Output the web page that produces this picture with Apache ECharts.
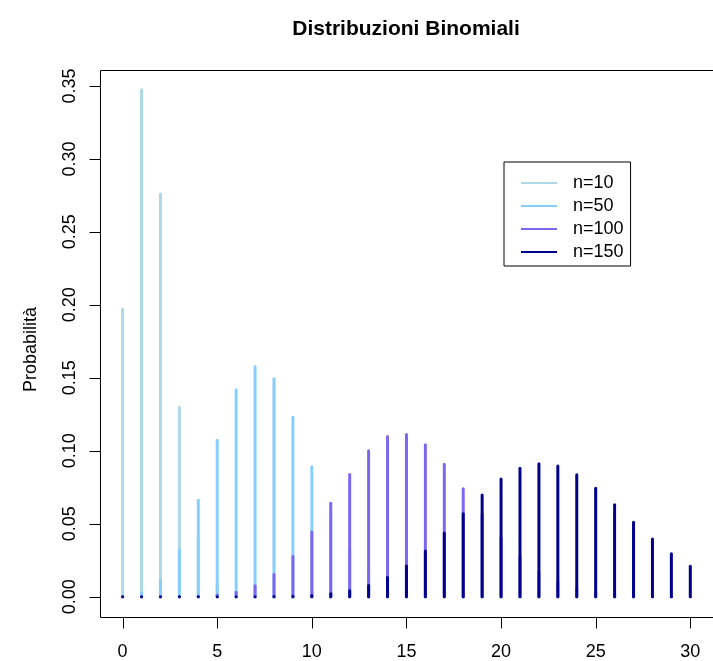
<!DOCTYPE html>
<html>
<head>
<meta charset="utf-8">
<script src="https://cdn.jsdelivr.net/npm/echarts@6/dist/echarts.min.js"></script>
<style>
  html, body { margin: 0; padding: 0; background: #fff; }
  #chart { width: 713px; height: 661px; }
</style>
</head>
<body>
<div id="chart"></div>
<script>
// Binomial probability mass functions, p = 0.15, for k = 0..30
const kValues = [0,1,2,3,4,5,6,7,8,9,10,11,12,13,14,15,16,17,18,19,20,21,22,23,24,25,26,27,28,29,30];

const seriesNames = ['n=10', 'n=50', 'n=100', 'n=150'];
const seriesColors = ['#ADD8E6', '#87CEFA', '#7B68EE', '#00008B'];

const probN10 = [0.1969, 0.3474, 0.2759, 0.1298, 0.0401, 0.0085, 0.00125, 0.000126, 0.0000083, 0.0000003,
  0.00000001, 0, 0, 0, 0, 0, 0, 0, 0, 0, 0, 0, 0, 0, 0, 0, 0, 0, 0, 0, 0];
const probN50 = [0.000296, 0.00261, 0.0113, 0.0319, 0.0661, 0.1072, 0.1419, 0.1575, 0.1493, 0.1230,
  0.0890, 0.0571, 0.0328, 0.0169, 0.00788, 0.00334, 0.00129, 0.000455, 0.000147, 0.0000437,
  0.000012, 0.000003, 0.0000007, 0.0000001, 0, 0, 0, 0, 0, 0, 0];
const probN100 = [0.00000009, 0.0000015, 0.0000135, 0.0000777, 0.000333, 0.00113, 0.00315, 0.00746, 0.0153, 0.0276,
  0.0444, 0.0640, 0.0838, 0.1001, 0.1098, 0.1111, 0.1041, 0.0908, 0.0739, 0.0563,
  0.0402, 0.0270, 0.0171, 0.0103, 0.00581, 0.00312, 0.00159, 0.000767, 0.000353, 0.000155, 0.0000646];
const probN150 = [0.00000000003, 0.0000000007, 0.000000009, 0.000000078, 0.00000051, 0.0000026, 0.0000112, 0.0000406, 0.000128, 0.000356,
  0.000886, 0.00199, 0.00407, 0.00762, 0.0132, 0.0211, 0.0314, 0.0436, 0.0569, 0.0697,
  0.0806, 0.0881, 0.0911, 0.0895, 0.0836, 0.0743, 0.0631, 0.0511, 0.0396, 0.0294, 0.0209];

const probSets = [probN10, probN50, probN100, probN150];

// Axis ticks and labels
const xTicks = [0, 5, 10, 15, 20, 25, 30];
const yTicks = [0, 0.05, 0.10, 0.15, 0.20, 0.25, 0.30, 0.35];

// Plot frame range (data range padded by 4% on each side)
const X_MIN = -1.2, X_MAX = 31.2;
const Y_MIN = -0.0139, Y_MAX = 0.3609;
// The grid reaches a little past the frame on the left and bottom so the
// outward tick marks fall inside the drawing area.
const X_GRID_MIN = -1.829;
const Y_GRID_MIN = -0.02211;

const FONT = '"Liberation Sans", Arial, Helvetica, sans-serif';
const TICK_LEN = 11;

function spikeRenderer(color) {
  return function (params, api) {
    const x = api.value(0);
    const y = api.value(1);
    const base = api.coord([x, 0]);
    const top = api.coord([x, y]);
    return {
      type: 'line',
      shape: { x1: base[0], y1: base[1], x2: top[0], y2: top[1] },
      style: { stroke: color, lineWidth: 3, lineCap: 'round' }
    };
  };
}

const series = [];

// Plot frame
series.push({
  type: 'custom',
  name: 'frame',
  clip: false,
  silent: true,
  z: 1,
  encode: { x: 0, y: 1 },
  data: [[X_MIN, Y_MIN, X_MAX, Y_MAX]],
  renderItem: (params, api) => {
    const a = api.coord([api.value(0), api.value(3)]);
    const b = api.coord([api.value(2), api.value(1)]);
    const x0 = Math.round(a[0]) + 0.5, y0 = Math.round(a[1]) + 0.5;
    const x1 = Math.round(b[0]) + 0.5, y1 = Math.round(b[1]) + 0.5;
    return {
      type: 'rect',
      shape: { x: x0, y: y0, width: x1 - x0, height: y1 - y0 },
      style: { fill: null, stroke: '#000', lineWidth: 1 }
    };
  }
});

// Outward tick marks along the bottom and left sides of the frame
series.push({
  type: 'custom',
  name: 'xTickMarks',
  clip: false,
  silent: true,
  z: 1,
  encode: { x: 0, y: 1 },
  data: xTicks.map(v => [v, Y_MIN]),
  renderItem: (params, api) => {
    const p = api.coord([api.value(0), api.value(1)]);
    const x = Math.round(p[0]) + 0.5;
    const y = Math.round(p[1]) + 0.5;
    return {
      type: 'line',
      shape: { x1: x, y1: y, x2: x, y2: y + TICK_LEN },
      style: { stroke: '#000', lineWidth: 1 }
    };
  }
});
series.push({
  type: 'custom',
  name: 'yTickMarks',
  clip: false,
  silent: true,
  z: 1,
  encode: { x: 0, y: 1 },
  data: yTicks.map(v => [X_MIN, v]),
  renderItem: (params, api) => {
    const p = api.coord([api.value(0), api.value(1)]);
    const x = Math.round(p[0]) + 0.5;
    const y = Math.round(p[1]) + 0.5;
    return {
      type: 'line',
      shape: { x1: x, y1: y, x2: x - TICK_LEN, y2: y },
      style: { stroke: '#000', lineWidth: 1 }
    };
  }
});

// Probability spikes, drawn in order so larger n sits on top
seriesNames.forEach((name, i) => {
  series.push({
    type: 'custom',
    name: name,
    renderItem: spikeRenderer(seriesColors[i]),
    itemStyle: { color: seriesColors[i] },
    encode: { x: 0, y: 1 },
    data: kValues.map((k, j) => [k, probSets[i][j]]),
    clip: false,
    silent: true,
    z: 2
  });
});

const chart = echarts.init(document.getElementById('chart'), null, { renderer: 'canvas' });

chart.setOption({
  animation: false,
  backgroundColor: '#fff',
  textStyle: { fontFamily: FONT },
  title: {
    text: 'Distribuzioni Binomiali',
    left: 406,
    top: 19,
    padding: 0,
    textAlign: 'center',
    textStyle: { fontFamily: FONT, fontWeight: 'bold', fontSize: 21, color: '#000' }
  },
  legend: {
    orient: 'vertical',
    left: 504,
    top: 162,
    z: 10,
    padding: [12, 7, 5, 17],
    itemGap: 5,
    itemWidth: 36,
    itemHeight: 2,
    icon: 'rect',
    borderColor: '#000',
    borderWidth: 1,
    borderRadius: 0,
    backgroundColor: '#fff',
    textStyle: { fontFamily: FONT, fontSize: 18, color: '#000', padding: [0, 0, 0, 11], lineHeight: 18 },
    data: seriesNames
  },
  grid: {
    left: 88,
    top: 70,
    width: 630,
    height: 560,
    show: false,
    containLabel: false
  },
  xAxis: {
    type: 'value',
    min: X_GRID_MIN,
    max: X_MAX,
    splitLine: { show: false },
    axisLine: { show: false, onZero: false },
    axisTick: { show: false },
    axisLabel: {
      customValues: xTicks,
      margin: 14,
      fontSize: 18,
      fontFamily: FONT,
      color: '#000',
      formatter: v => String(v)
    }
  },
  yAxis: {
    type: 'value',
    min: Y_GRID_MIN,
    max: Y_MAX,
    name: 'Probabilità',
    nameLocation: 'middle',
    nameGap: 48,
    nameRotate: 90,
    nameTextStyle: { fontFamily: FONT, fontSize: 18, color: '#000' },
    splitLine: { show: false },
    axisLine: { show: false, onZero: false },
    axisTick: { show: false },
    axisLabel: {
      customValues: yTicks,
      rotate: 90,
      margin: 9,
      fontSize: 18,
      fontFamily: FONT,
      color: '#000',
      formatter: v => v.toFixed(2)
    }
  },
  series: series
});
</script>
</body>
</html>
